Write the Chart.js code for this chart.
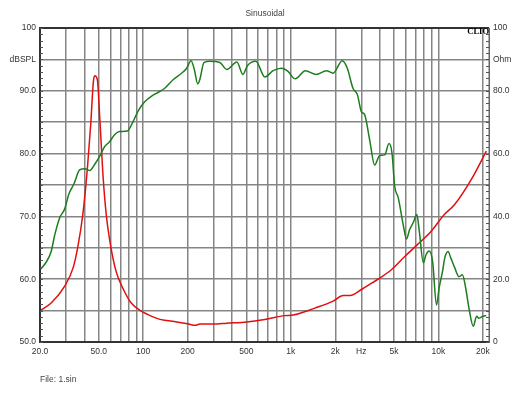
<!DOCTYPE html>
<html>
<head>
<meta charset="utf-8">
<script src="https://cdn.jsdelivr.net/npm/chart.js@4/dist/chart.umd.min.js"></script>
<style>
  html, body { margin: 0; padding: 0; background: #fff; }
  #chart { display: block; }
</style>
</head>
<body>
<canvas id="chart" width="530" height="398"></canvas>
<script>
// frequency response (dBSPL, left axis)
const splFreq = [20, 22, 23.8, 25.2, 27.2, 29.4, 31.3, 34, 37.1, 40.2, 43.5, 47, 50.8, 54.8, 59.2, 64, 69.1, 78, 85.4, 92.5,
  102, 116.6, 123, 140, 160, 182, 196, 211, 222, 234, 242, 258, 283, 331, 368, 431, 474, 508, 580, 667,
  760, 864, 957, 1070, 1255, 1487, 1741, 1934, 2230, 2413, 2636, 2822, 3003, 3163, 3420, 3698, 3999, 4325, 4626, 4845,
  5053, 5340, 5770, 6070, 6380, 6780, 7140, 7420, 7900, 8240, 8670, 9130, 9710, 10110, 10650, 11040, 11620, 12120, 12900, 13790,
  14530, 15290, 16090, 17220, 18130, 18780, 20030, 21100]
const splDb = [61.5, 62.7, 64.4, 67.1, 69.8, 71.2, 73.5, 75.2, 77.4, 77.6, 77.3, 78.3, 79.6, 81.1, 81.9, 83.0, 83.5, 83.6, 85.1, 86.8,
  88.2, 89.3, 89.6, 90.4, 91.8, 92.8, 93.5, 94.8, 93.4, 91.1, 91.8, 94.5, 94.7, 94.5, 93.4, 94.6, 92.6, 94.0, 94.7, 92.2,
  93.2, 93.6, 93.1, 91.9, 93.2, 92.6, 93.2, 92.8, 94.8, 93.6, 90.4, 89.4, 86.7, 86.2, 82.2, 78.2, 79.7, 79.8, 81.6, 80.1,
  74.8, 73.0, 68.7, 66.4, 67.9, 69.1, 70.3, 67.6, 62.6, 63.9, 64.5, 62.8, 55.9, 58.6, 61.2, 63.4, 64.4, 63.4, 61.8, 60.4,
  60.7, 58.6, 55.4, 52.5, 54.1, 53.8, 54.1, 54.2]

// impedance (Ohm, right axis)
const impFreq = [20, 23.8, 29.4, 33.5, 36.1, 39, 41.9, 44.1, 46, 47, 48.9, 50.8, 53.4, 56.2, 60.2, 65.6, 72.7, 83, 97.3, 116.6,
  130, 169, 200, 225, 242, 298, 368, 503, 667, 909, 1038, 1456, 1934, 2265, 2520, 3025, 3550, 4020, 4800, 5960,
  7200, 8900, 10960, 12870, 16900, 21100]
const impOhm = [10.0, 12.4, 17.8, 23.6, 30.4, 40.6, 55.4, 69.2, 83.0, 84.8, 83.6, 71.4, 53.2, 40.6, 30.6, 22.4, 17.2, 12.4, 9.8, 8.0,
  7.2, 6.4, 5.8, 5.3, 5.7, 5.7, 6.0, 6.4, 7.2, 8.4, 8.6, 10.8, 13.0, 14.8, 14.8, 16.8, 18.8, 20.4, 23.0, 27.4,
  31.0, 35.2, 40.6, 43.8, 52.2, 60.8]

// axes
const freqTicks = [20, 30, 40, 50, 60, 70, 80, 90, 100, 200, 300, 400, 500, 600, 700, 800, 900,
  1000, 2000, 3000, 4000, 5000, 6000, 7000, 8000, 9000, 10000, 20000]
const freqLabels = { 20: "20.0", 50: "50.0", 100: "100", 200: "200", 500: "500", 1000: "1k", 2000: "2k",
  3000: "Hz", 5000: "5k", 10000: "10k", 20000: "20k" }
const splTicks = [50, 55, 60, 65, 70, 75, 80, 85, 90, 95, 100]
const splLabels = { 50: "50.0", 60: "60.0", 70: "70.0", 80: "80.0", 90: "90.0", 95: "dBSPL", 100: "100" }
const ohmTicks = [0, 10, 20, 30, 40, 50, 60, 70, 80, 90, 100]
const ohmLabels = { 0: "0", 20: "20.0", 40: "40.0", 60: "60.0", 80: "80.0", 90: "Ohm", 100: "100" }

const FONT = "Arial, 'Liberation Sans', sans-serif"
const GRID = "#858585"
const tickFont = { family: FONT, size: 8.5 }

const textPlugin = {
  id: "texts",
  afterDraw(chart) {
    const { ctx, chartArea: a, scales } = chart
    ctx.save()
    // frame
    ctx.strokeStyle = "#333"
    ctx.lineWidth = 2
    ctx.beginPath()
    ctx.moveTo(a.left, a.bottom)
    ctx.lineTo(a.left, a.top)
    ctx.lineTo(a.right, a.top)
    ctx.stroke()
    ctx.lineWidth = 1
    ctx.strokeStyle = "#666"
    ctx.beginPath()
    ctx.moveTo(a.right, a.top)
    ctx.lineTo(a.right, a.bottom)
    ctx.stroke()
    // minor ticks, inside both vertical axes
    ctx.strokeStyle = "#555"
    ctx.beginPath()
    for (let v = 50; v <= 100; v++) {
      const y = Math.round(scales.y.getPixelForValue(v)) + 0.5
      ctx.moveTo(a.left, y); ctx.lineTo(a.left + 3, y)
      ctx.moveTo(a.right, y); ctx.lineTo(a.right - 3, y)
    }
    ctx.stroke()

    ctx.fillStyle = "#444"
    ctx.font = "8.5px " + FONT
    ctx.textBaseline = "middle"
    ctx.textAlign = "center"
    ctx.fillText("Sinusoidal", 265, 14)
    ctx.textAlign = "left"
    ctx.fillText("File: 1.sin", 40, 380)
    ctx.fillStyle = "#000"
    ctx.font = "bold 8.5px 'Liberation Serif', 'DejaVu Serif', serif"
    ctx.textAlign = "right"
    ctx.fillText("CLIO", a.right, a.top + 4)
    ctx.restore()
  }
}

new Chart(document.getElementById("chart"), {
  type: "line",
  data: {
    datasets: [
      {
        label: "SPL",
        data: splFreq.map((f, i) => ({ x: f, y: splDb[i] })),
        yAxisID: "y",
        borderColor: "#1e7d1e",
        borderWidth: 1.5,
        pointRadius: 0,
        cubicInterpolationMode: "monotone"
      },
      {
        label: "Impedance",
        data: impFreq.map((f, i) => ({ x: f, y: impOhm[i] })),
        yAxisID: "y1",
        borderColor: "#e01010",
        borderWidth: 1.5,
        pointRadius: 0,
        cubicInterpolationMode: "monotone"
      }
    ]
  },
  options: {
    animation: false,
    responsive: false,
    layout: { padding: { top: 28, left: 0, right: 0, bottom: 0 } },
    plugins: { legend: { display: false }, tooltip: { enabled: false } },
    scales: {
      x: {
        type: "logarithmic",
        min: 20,
        max: 22000,
        afterBuildTicks: (s) => { s.ticks = freqTicks.map(v => ({ value: v })) },
        afterFit: (s) => { s.height = 56 },
        ticks: {
          autoSkip: false, maxRotation: 0, padding: 5,
          color: "#333", font: tickFont,
          callback: (v) => freqLabels[v] ?? ""
        },
        grid: { color: GRID, lineWidth: 1.5, drawTicks: false },
        border: { color: "#333", width: 2 }
      },
      y: {
        position: "left",
        min: 50,
        max: 100,
        afterBuildTicks: (s) => { s.ticks = splTicks.map(v => ({ value: v })) },
        afterFit: (s) => { s.width = 40 },
        ticks: {
          padding: 4, color: "#333", font: tickFont,
          callback: (v) => splLabels[v] ?? ""
        },
        grid: { color: GRID, lineWidth: 1.5, drawTicks: false },
        border: { color: "#333", width: 2 }
      },
      y1: {
        position: "right",
        min: 0,
        max: 100,
        afterBuildTicks: (s) => { s.ticks = ohmTicks.map(v => ({ value: v })) },
        afterFit: (s) => { s.width = 41 },
        ticks: {
          padding: 4, color: "#333", font: tickFont,
          callback: (v) => ohmLabels[v] ?? ""
        },
        grid: { drawOnChartArea: false, drawTicks: false },
        border: { color: "#666", width: 1 }
      }
    }
  },
  plugins: [textPlugin]
})
</script>
</body>
</html>
